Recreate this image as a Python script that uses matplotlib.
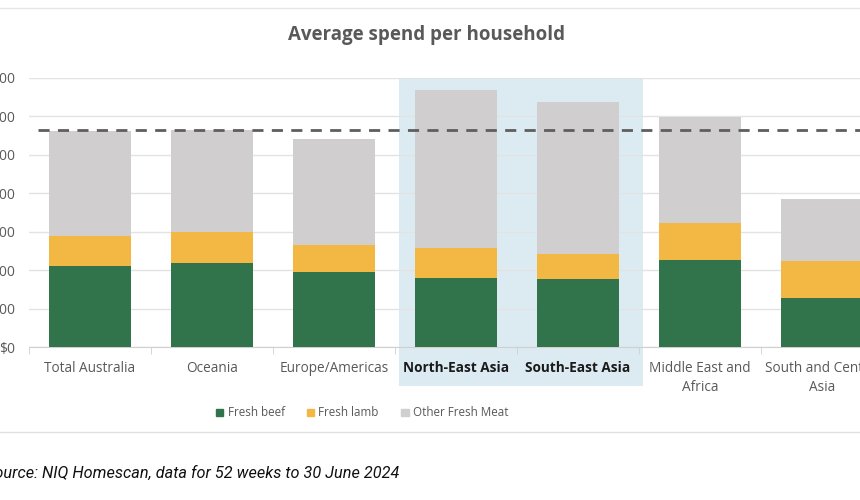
import numpy as np
import matplotlib.pyplot as plt
from matplotlib.patches import Rectangle, Patch
from matplotlib.lines import Line2D

regions = ['Total Australia', 'Oceania', 'Europe/Americas', 'North-East Asia',
           'South-East Asia', 'Middle East and\nAfrica', 'South and Central\nAsia']
# cumulative tops, converted to per-segment values
beef = [211, 219, 195, 179, 176, 226, 127]
lamb = [78, 80, 70, 78, 67, 97, 96]
other = [274, 266, 276, 412, 395, 275, 163]
avg_line = 564
yticks = [0, 100, 200, 300, 400, 500, 600, 700]
ytick_labels = ['$0', '$100', '$200', '$300', '$400', '$500', '$600', '$700']
highlight = ['North-East Asia', 'South-East Asia']

c_beef = '#31744c'
c_lamb = '#f2b843'
c_other = '#d0cece'
txt = '#595959'

plt.rcParams['font.family'] = ['Open Sans', 'DejaVu Sans']

W, H = 860, 500
fig = plt.figure(figsize=(W / 100, H / 100), dpi=100)

# blue highlight box behind the two Asia bars (figure pixels)
box = Rectangle((399 / W, 1 - 386 / H), (643 - 399) / W, (386 - 78) / H,
                transform=fig.transFigure, facecolor='#dceaf2', edgecolor='none')
box.set_zorder(-1)
fig.add_artist(box)

ax = fig.add_axes([29 / W, 1 - 347 / H, 854 / W, (347 - 78) / H])
ax.set_facecolor('none')
ax.set_zorder(1)

x = np.arange(len(regions))
w = 0.665
ax.bar(x, beef, w, color=c_beef, zorder=3)
ax.bar(x, lamb, w, bottom=beef, color=c_lamb, zorder=3)
ax.bar(x, other, w, bottom=np.array(beef) + np.array(lamb), color=c_other, zorder=3)

ax.axhline(avg_line, xmin=0.01, color='#5e5e5e', lw=2, ls=(0, (4, 3)), zorder=4)

ax.set_xlim(-0.5, len(regions) - 0.5)
ax.set_ylim(0, 700)
ax.set_yticks(yticks)
ax.set_yticklabels(ytick_labels, color=txt, fontsize=10)
ax.tick_params(axis='y', length=0, pad=10)
ax.grid(axis='y', color='#e3e3e3', lw=1, zorder=0)

ax.set_xticks(x)
ax.set_xticklabels(regions, fontsize=9.8, color=txt, linespacing=1.35)
for lbl in ax.get_xticklabels():
    if lbl.get_text() in highlight:
        lbl.set_fontweight('bold')
        lbl.set_color('#1a1a1a')
ax.set_xticks(np.arange(len(regions) + 1) - 0.5, minor=True)
ax.tick_params(axis='x', which='major', length=0, pad=10)
ax.tick_params(axis='x', which='minor', length=5, color='#d0d0d0')

for s in ['top', 'right', 'left']:
    ax.spines[s].set_visible(False)
ax.spines['bottom'].set_color('#d0d0d0')

fig.text(427 / W, 1 - 35 / H, 'Average spend per household', ha='center', va='center',
         fontsize=13.5, fontweight='bold', color=txt)

handles = [Patch(color=c_beef), Patch(color=c_lamb), Patch(color=c_other)]
fig.legend(handles, ['Fresh beef', 'Fresh lamb', 'Other Fresh Meat'], loc='center',
           bbox_to_anchor=(362 / W, 1 - 413 / H), ncol=3, frameon=False, fontsize=8.4,
           labelcolor=txt, handlelength=0.65, handleheight=0.65, handletextpad=0.35,
           columnspacing=1.9)

fig.add_artist(Line2D([0, 1], [1 - 432 / H, 1 - 432 / H], transform=fig.transFigure,
                      color='#e0e0e0', lw=1))
fig.add_artist(Line2D([0, 1], [1 - 8 / H, 1 - 8 / H], transform=fig.transFigure,
                      color='#e6e6e6', lw=1))

fig.text(-15 / W, 1 - 473 / H, 'Source: NIQ Homescan, data for 52 weeks to 30 June 2024',
         ha='left', va='center', fontsize=11.7, style='italic', color='#111111',
         family=['Roboto', 'DejaVu Sans'])

fig.savefig('out.png', dpi=100)
